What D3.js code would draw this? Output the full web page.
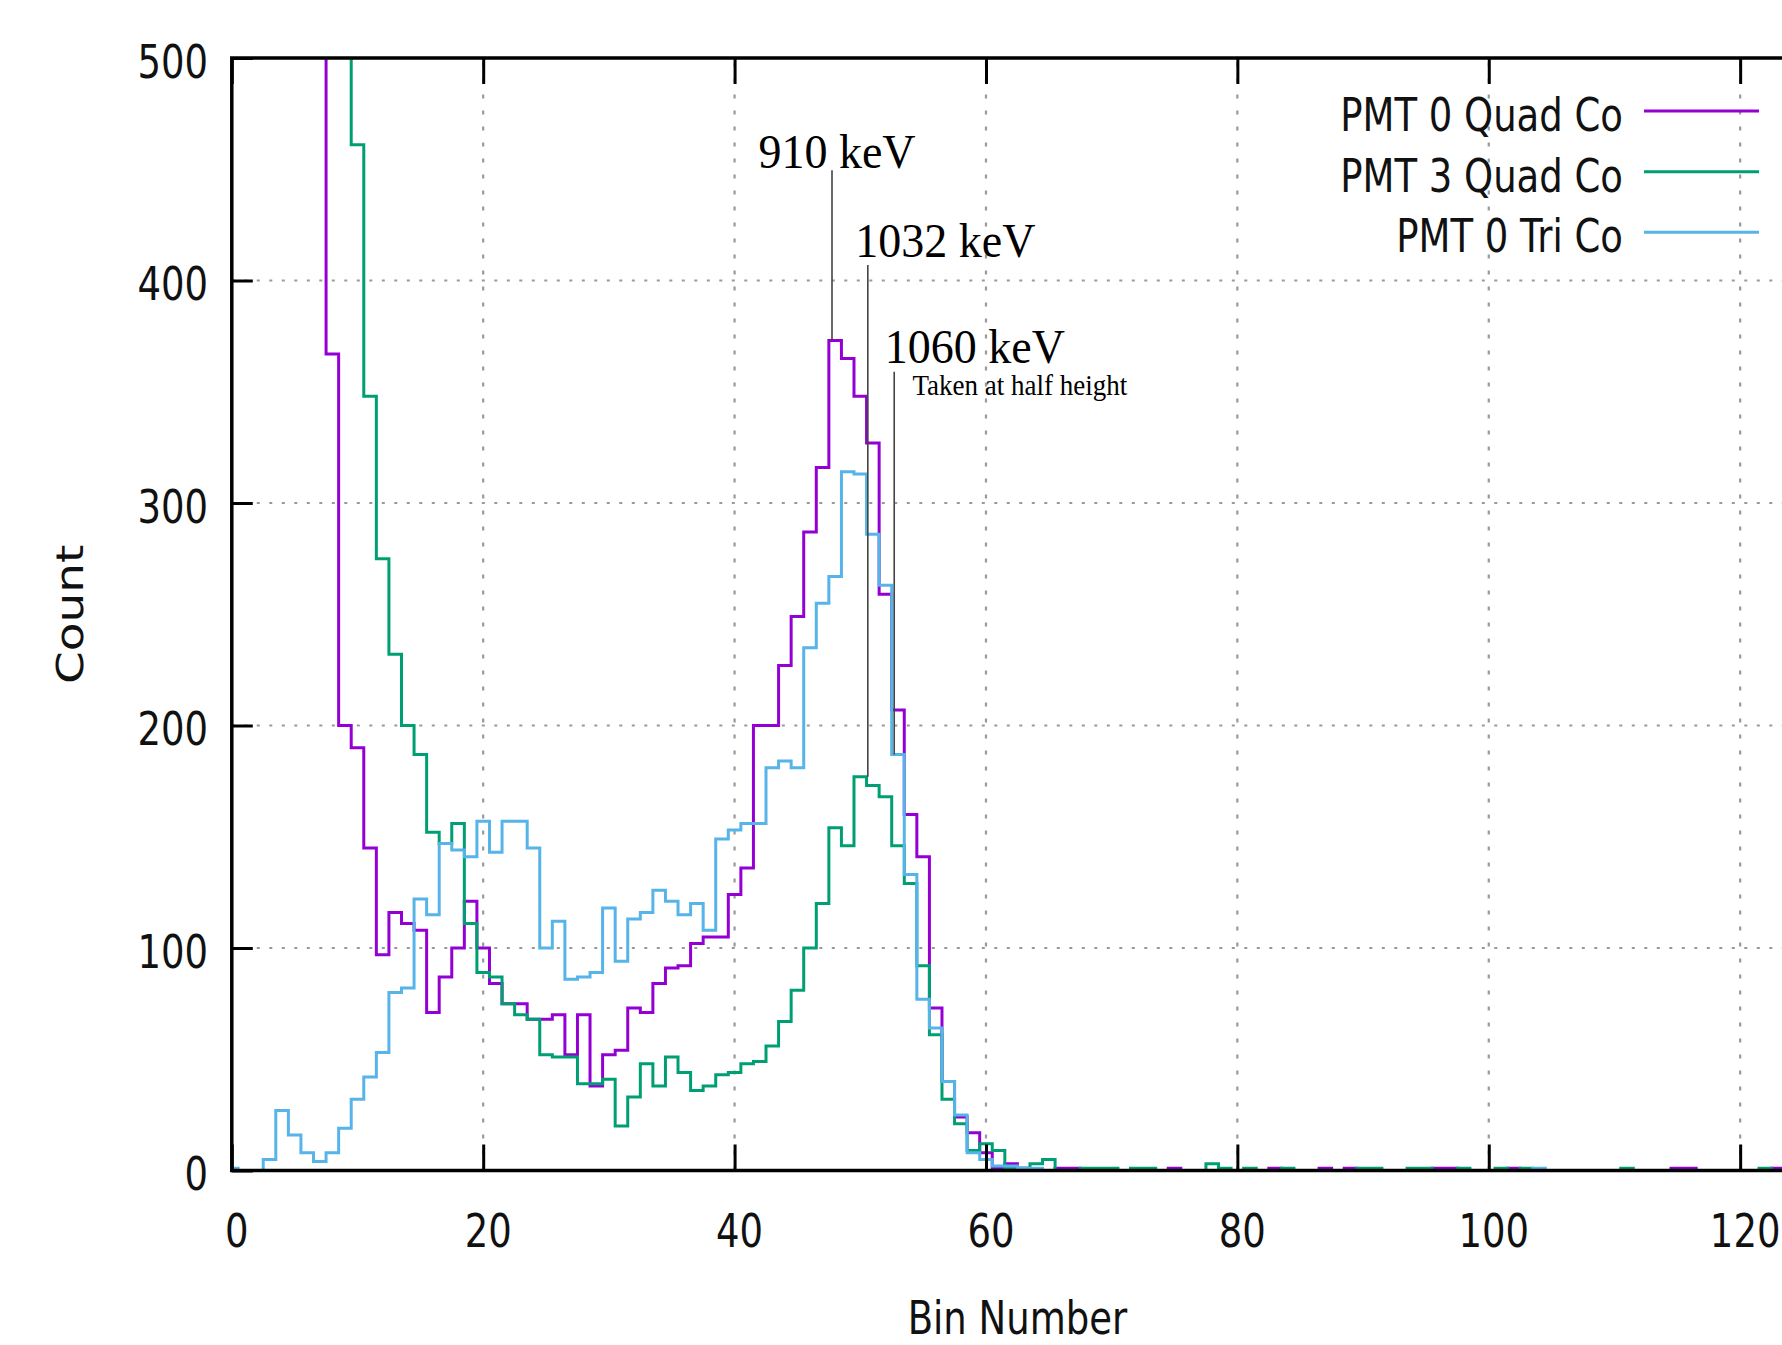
<!DOCTYPE html>
<html><head><meta charset="utf-8">
<script src="https://cdn.jsdelivr.net/npm/d3@7"></script>
<style>html,body{margin:0;padding:0;background:#fff;overflow:hidden}</style>
</head><body>
<svg id="chart" width="1782" height="1345"></svg>
<script>
// ---------- data ----------
const xTicks = [0, 20, 40, 60, 80, 100, 120];
const yTicks = [0, 100, 200, 300, 400, 500];
const xTitle = "Bin Number";
const yTitle = "Count";
const seriesNames = ["PMT 0 Quad Co", "PMT 3 Quad Co", "PMT 0 Tri Co"];
const seriesColors = ["#9400d3", "#009e73", "#56b4e9"];

// PMT 0 Quad Co, counts per bin starting at bin 7 (bin 7 is off scale)
const pmt0QuadStart = 7;
const pmt0Quad = [
  720, 367, 200,
  190, 145, 97, 116, 111, 108, 71, 87, 100, 121,
  100, 84, 75, 75, 68, 68, 70, 52, 70, 38,
  52, 54, 73, 71, 84, 91, 92, 102, 105, 105,
  124, 136, 200, 200, 227, 249, 287, 316, 373, 365,
  348, 327, 259, 207, 160, 141, 73, 40, 24, 17,
  8, 1, 3, 1, 0, 0, 1, 1, 0, 0,
  0, 0, 0, 0, 0, 1, 0, 0, 0, 0,
  0, 0, 0, 1, 0, 0, 0, 1, 0, 1,
  0, 0, 0, 0, 0, 0, 1, 1, 0, 0,
  0, 0, 1, 0, 0, 0, 0, 0, 0, 0,
  0, 0, 0, 0, 0, 1, 1, 0, 0, 0,
  0, 0, 0, 1, 0
];

// PMT 3 Quad Co, counts per bin starting at bin 9 (bin 9 is off scale)
const pmt3QuadStart = 9;
const pmt3Quad = [
  600,
  461, 348, 275, 232, 200, 187, 152, 147, 156, 111,
  89, 87, 75, 70, 68, 52, 51, 51, 39, 39,
  41, 20, 33, 48, 38, 51, 44, 36, 38, 43,
  44, 48, 49, 56, 67, 81, 100, 120, 154, 146,
  177, 173, 168, 146, 129, 92, 61, 32, 21, 9,
  12, 9, 1, 1, 3, 5, 0, 0, 1, 1,
  1, 0, 1, 1, 0, 0, 0, 0, 3, 1,
  0, 1, 0, 0, 1, 0, 0, 0, 0, 0,
  1, 1, 0, 0, 1, 1, 0, 0, 1, 0,
  0, 1, 0, 1, 0, 0, 0, 0, 0, 0,
  0, 1, 0, 0, 0, 0, 0, 0, 0, 0,
  0, 0, 1, 0, 0
];

// PMT 0 Tri Co, counts per bin starting at bin 0
const pmt0TriStart = 0;
const pmt0Tri = [
  1, 0, 0, 5, 27, 16, 8, 4, 8, 19,
  32, 42, 53, 80, 82, 122, 115, 147, 144, 141,
  157, 143, 157, 157, 145, 100, 112, 86, 87, 89,
  118, 94, 113, 116, 126, 121, 115, 120, 108, 149,
  153, 156, 156, 181, 184, 181, 235, 255, 267, 314,
  313, 286, 263, 187, 133, 77, 64, 40, 25, 8,
  5, 2, 2, 1, 1, 0, 0, 0, 0, 0,
  0, 0, 0, 0, 0, 0, 0, 0, 0, 0,
  0, 0, 0, 0, 0, 0, 0, 0, 0, 0,
  0, 0, 0, 0, 0, 0, 0, 0, 0, 0,
  0, 0, 0, 0, 1, 0, 0, 0, 0, 0,
  0, 0, 0, 0, 0, 0, 0, 0, 0, 0,
  0, 0, 0, 0, 0
];

// annotations (data coordinates)
const annotText = ["910 keV", "1032 keV", "1060 keV"];
const annotTextX = [41.9, 49.6, 51.95];
const annotTextY = [450.4, 410.7, 362.8];
const annotLineX = [47.75, 50.6, 52.7];
const annotLineTop = [449.5, 407, 359];
const annotLineEnd = [373, 177, 187];
const noteText = "Taken at half height";
const noteX = 54.15, noteY = 348.6;

// ---------- layout ----------
const svg = d3.select("#chart");
const x = d3.scaleLinear().domain([0, 125]).range([231.8, 1803]);
const y = d3.scaleLinear().domain([0, 500]).range([1170.5, 58]);
const SANS = "'DejaVu Sans', 'Noto Sans', sans-serif";
const SERIF = "'Liberation Serif', 'DejaVu Serif', serif";
const FS = 37, VS = 1.27;

svg.append("rect").attr("width", 1782).attr("height", 1345).attr("fill", "#fff");

svg.append("defs").append("clipPath").attr("id", "plotclip")
  .append("rect").attr("x", x(0)).attr("y", y(500))
  .attr("width", x(125) - x(0)).attr("height", y(0) - y(500));

// grid
const grid = svg.append("g");
grid.selectAll("line.gx").data(xTicks.filter(d => d > 0)).join("line")
  .attr("x1", d => x(d)).attr("x2", d => x(d))
  .attr("y1", y(0)).attr("y2", y(500))
  .attr("stroke", "#999").attr("stroke-width", 2.2).attr("stroke-dasharray", "4,12");
grid.selectAll("line.gy").data(yTicks.filter(d => d > 0 && d < 500)).join("line")
  .attr("y1", d => y(d)).attr("y2", d => y(d))
  .attr("x1", x(0)).attr("x2", x(125))
  .attr("stroke", "#999").attr("stroke-width", 2.2).attr("stroke-dasharray", "3,9.5");

// series
function stepPoints(start, vals) {
  const pts = vals.map((v, i) => ({ bx: start + i - 0.5, v }));
  pts.push({ bx: start + vals.length - 0.5, v: vals[vals.length - 1] });
  return pts;
}
const line = d3.line().x(d => x(d.bx)).y(d => y(d.v)).curve(d3.curveStepAfter);
const series = [
  stepPoints(pmt0QuadStart, pmt0Quad),
  stepPoints(pmt3QuadStart, pmt3Quad),
  stepPoints(pmt0TriStart, pmt0Tri)
];
const plot = svg.append("g").attr("clip-path", "url(#plotclip)");
series.forEach((pts, i) => {
  plot.append("path").attr("d", line(pts)).attr("fill", "none")
    .attr("stroke", seriesColors[i]).attr("stroke-width", 3)
    .attr("stroke-linejoin", "miter").attr("stroke-linecap", "butt");
});

// annotation lines
annotText.forEach((t, i) => {
  svg.append("line")
    .attr("x1", x(annotLineX[i])).attr("x2", x(annotLineX[i]))
    .attr("y1", y(annotLineTop[i])).attr("y2", y(annotLineEnd[i]))
    .attr("stroke", "#444").attr("stroke-width", 1.6);
  svg.append("text")
    .attr("transform", `translate(${x(annotTextX[i])},${y(annotTextY[i])}) scale(1,1.07)`)
    .attr("font-family", SERIF).attr("font-size", 46).attr("fill", "#000").text(t);
});
svg.append("text")
  .attr("transform", `translate(${x(noteX)},${y(noteY)}) scale(1,1.07)`)
  .attr("font-family", SERIF).attr("font-size", 27).attr("fill", "#000").text(noteText);

// axes (ticks drawn inward)
function styleAxis(g) {
  g.select(".domain").remove();
  g.selectAll(".tick line").attr("stroke", "#000").attr("stroke-width", 3);
}
svg.append("g").attr("transform", `translate(0,${y(0)})`)
  .call(d3.axisBottom(x).tickValues(xTicks).tickSize(-26).tickSizeOuter(0).tickFormat(""))
  .call(styleAxis);
svg.append("g").attr("transform", `translate(0,${y(500)})`)
  .call(d3.axisTop(x).tickValues(xTicks).tickSize(-26).tickSizeOuter(0).tickFormat(""))
  .call(styleAxis);
svg.append("g").attr("transform", `translate(${x(0)},0)`)
  .call(d3.axisLeft(y).tickValues(yTicks).tickSize(-21).tickSizeOuter(0).tickFormat(""))
  .call(styleAxis);
svg.append("g").attr("transform", `translate(${x(125)},0)`)
  .call(d3.axisRight(y).tickValues(yTicks).tickSize(-21).tickSizeOuter(0).tickFormat(""))
  .call(styleAxis);

// frame
svg.append("rect").attr("x", x(0)).attr("y", y(500))
  .attr("width", x(125) - x(0)).attr("height", y(0) - y(500))
  .attr("fill", "none").attr("stroke", "#000").attr("stroke-width", 3.5);

// tick labels
svg.append("g").selectAll("text").data(xTicks).join("text")
  .attr("transform", d => `translate(${x(d) + 5},${y(0) + 76}) scale(1,${VS})`)
  .attr("text-anchor", "middle").attr("font-family", SANS).attr("font-size", FS)
  .attr("fill", "#111").text(d => d);
svg.append("g").selectAll("text").data(yTicks).join("text")
  .attr("transform", d => `translate(208,${y(d) + 19.5}) scale(1,${VS})`)
  .attr("text-anchor", "end").attr("font-family", SANS).attr("font-size", FS)
  .attr("fill", "#111").text(d => d);

// axis titles
svg.append("text")
  .attr("transform", `translate(${(x(0) + x(125)) / 2},1334) scale(1,${VS})`)
  .attr("text-anchor", "middle").attr("font-family", SANS).attr("font-size", FS)
  .attr("fill", "#111").text(xTitle);
svg.append("text")
  .attr("transform", `translate(83,${(y(0) + y(500)) / 2}) scale(1,${VS}) rotate(-90)`)
  .attr("text-anchor", "middle").attr("font-family", SANS).attr("font-size", FS)
  .attr("fill", "#111").text(yTitle);

// legend
const legendY = [111, 171.7, 232.3];
const leg = svg.append("g");
seriesNames.forEach((n, i) => {
  leg.append("text")
    .attr("transform", `translate(1623,${legendY[i] + 20}) scale(1,${VS})`)
    .attr("text-anchor", "end").attr("font-family", SANS).attr("font-size", FS)
    .attr("fill", "#111").text(n);
  leg.append("line").attr("x1", 1644).attr("x2", 1759)
    .attr("y1", legendY[i]).attr("y2", legendY[i])
    .attr("stroke", seriesColors[i]).attr("stroke-width", 3);
});
</script>
</body></html>
